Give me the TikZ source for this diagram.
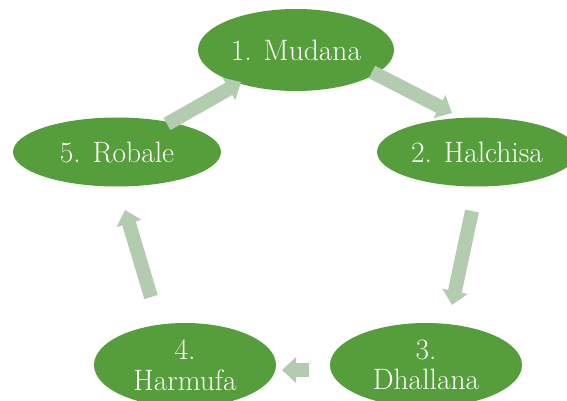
\documentclass[tikz,border=0pt]{standalone}
\usetikzlibrary{arrows.meta,shapes.geometric}
\definecolor{nodegreen}{HTML}{559E3B}
\definecolor{arrowgreen}{HTML}{B3CCAF}
\begin{document}
\begin{tikzpicture}[x=1pt,y=-1pt,
  stage/.style={ellipse, fill=nodegreen, text=white, inner sep=0pt,
    font=\fontsize{29.5}{30.5}\selectfont, align=center},
  flow/.style={draw=arrowgreen, line width=14pt,
    -{Triangle[width=25pt,length=14pt]}}]
\useasboundingbox (0,0) rectangle (567,401);
\clip (0,0) rectangle (567,401);
\node[stage, minimum width=196pt, minimum height=82pt] (n1) at (296,50) {1. Mudana};
\node[stage, minimum width=200pt, minimum height=69pt] (n2) at (477,152) {2. Halchisa};
\node[stage, minimum width=192pt, minimum height=84pt] (n3) at (426,365) {3.\\Dhallana};
\node[stage, minimum width=182pt, minimum height=84pt] (n4) at (185,365) {4.\\Harmufa};
\node[stage, minimum width=208pt, minimum height=69pt] (n5) at (117,152) {5. Robale};
\coordinate (a51s) at (167,124); \coordinate (a51e) at (241,82);
\coordinate (a12s) at (372,72);  \coordinate (a12e) at (452,113);
\coordinate (a23s) at (472,211); \coordinate (a23e) at (452,305);
\coordinate (a34s) at (309,370); \coordinate (a34e) at (282,370);
\coordinate (a45s) at (151,297); \coordinate (a45e) at (125,210);
\draw[flow] (a51s) -- (a51e);
\draw[flow] (a12s) -- (a12e);
\draw[flow] (a23s) -- (a23e);
\draw[flow] (a34s) -- (a34e);
\draw[flow] (a45s) -- (a45e);
\end{tikzpicture}
\end{document}
